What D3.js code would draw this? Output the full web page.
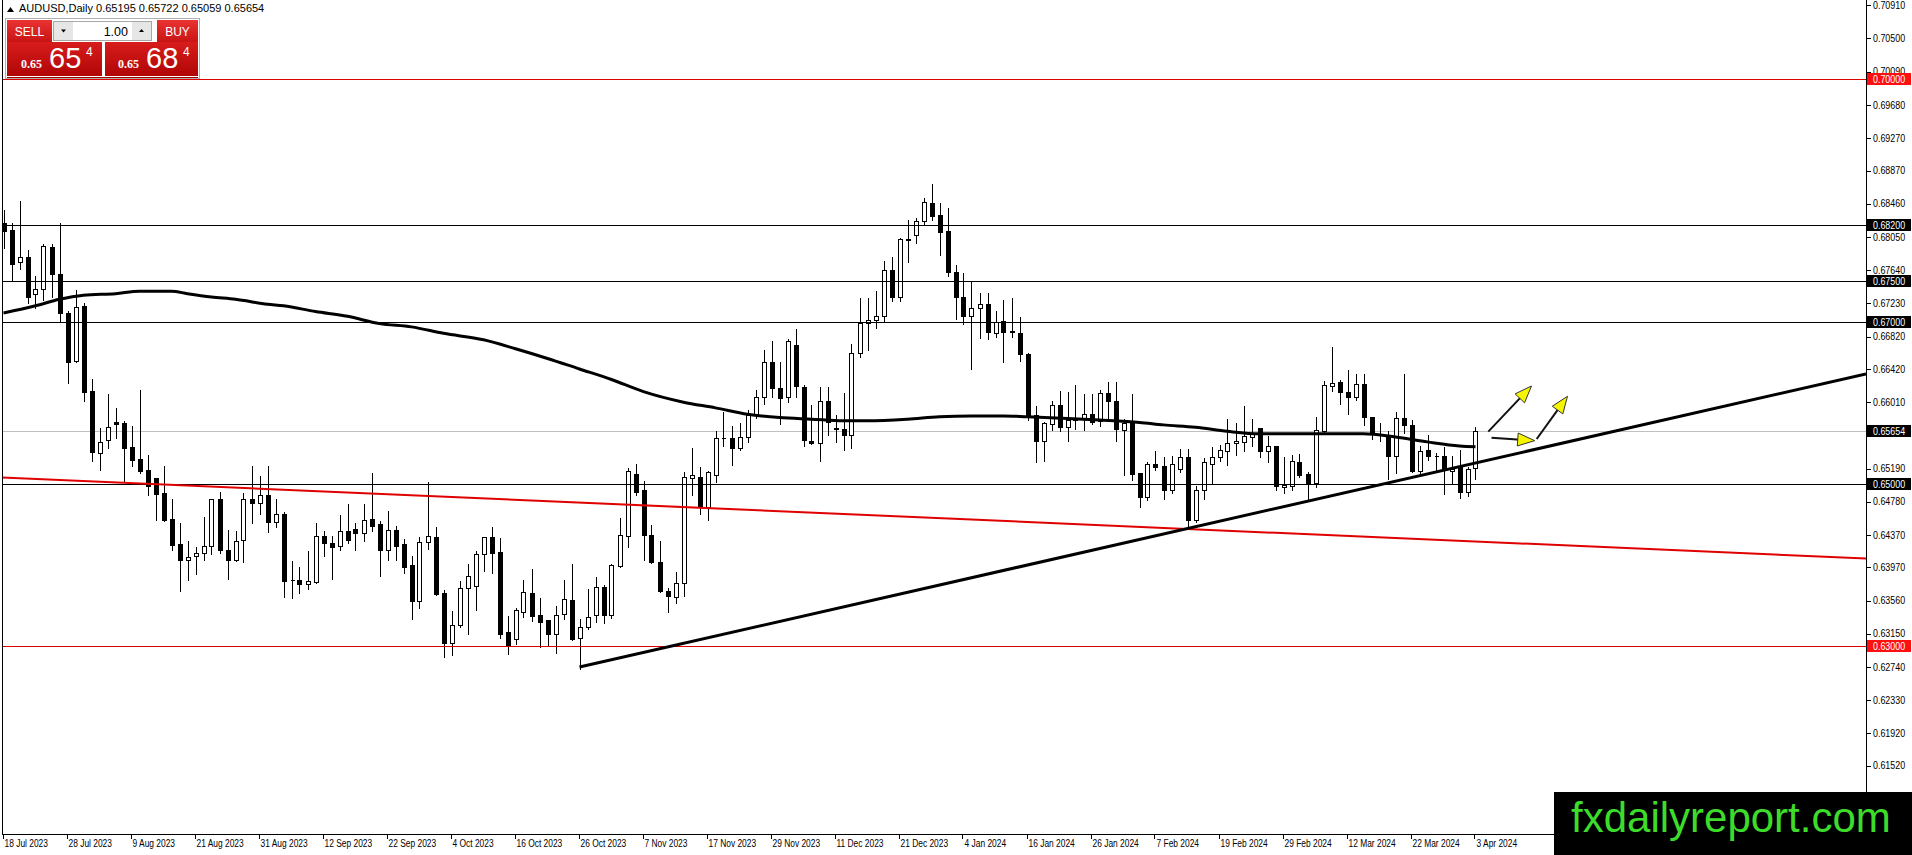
<!DOCTYPE html>
<html><head><meta charset="utf-8">
<script src="https://cdn.jsdelivr.net/npm/d3@7"></script>
<style>
html,body{margin:0;padding:0;background:#fff;overflow:hidden}
svg{display:block}
.ax{font-family:"Liberation Sans",Arial,sans-serif;font-size:10px}
</style></head><body>
<svg id="c" width="1912" height="855"></svg>
<script>
// ---------- DATA ----------
const opens = [0.6822,0.6814,0.6774,0.6780,0.6734,0.6741,0.6793,0.6759,0.6711,0.6652,0.6720,0.6615,0.6538,0.6554,0.6576,0.6575,0.6546,0.6531,0.6517,0.6507,0.6489,0.6457,0.6426,0.6406,0.6411,0.6415,0.6424,0.6481,0.6419,0.6406,0.6431,0.6482,0.6477,0.6486,0.6453,0.6463,0.6382,0.6381,0.6377,0.6379,0.6436,0.6427,0.6424,0.6442,0.6444,0.6439,0.6457,0.6451,0.6418,0.6443,0.6426,0.6400,0.6355,0.6428,0.6434,0.6365,0.6304,0.6326,0.6372,0.6374,0.6413,0.6434,0.6416,0.6317,0.6309,0.6342,0.6366,0.6338,0.6332,0.6315,0.6339,0.6357,0.6310,0.6323,0.6338,0.6373,0.6338,0.6399,0.6436,0.6512,0.6492,0.6437,0.6404,0.6368,0.6361,0.6378,0.6508,0.6509,0.6471,0.6511,0.6557,0.6557,0.6544,0.6558,0.6586,0.6607,0.6650,0.6618,0.6607,0.6672,0.6620,0.6553,0.6550,0.6602,0.6569,0.6568,0.6561,0.6662,0.6699,0.6702,0.6708,0.6764,0.6731,0.6802,0.6807,0.6825,0.6847,0.6832,0.6812,0.6762,0.6731,0.6708,0.6717,0.6722,0.6687,0.6701,0.6689,0.6686,0.6661,0.6585,0.6553,0.6574,0.6597,0.6570,0.6580,0.6580,0.6586,0.6578,0.6612,0.6603,0.6567,0.6577,0.6513,0.6484,0.6525,0.6522,0.6493,0.6519,0.6533,0.6455,0.6492,0.6525,0.6533,0.6541,0.6550,0.6552,0.6558,0.6569,0.6541,0.6547,0.6496,0.6498,0.6527,0.6512,0.6501,0.6565,0.6621,0.6626,0.6613,0.6608,0.6623,0.6583,0.6561,0.6560,0.6534,0.6582,0.6573,0.6516,0.6542,0.6535,0.6534,0.6516,0.6521,0.6490,0.65195];
const highs = [0.6839,0.6823,0.6850,0.6790,0.6758,0.6798,0.6797,0.6824,0.6715,0.6741,0.6725,0.6631,0.6570,0.6612,0.6595,0.6579,0.6573,0.6617,0.6537,0.6507,0.6524,0.6483,0.6453,0.6431,0.6424,0.6460,0.6483,0.6491,0.6444,0.6443,0.6490,0.6524,0.6511,0.6524,0.6483,0.6467,0.6406,0.6399,0.6418,0.6453,0.6443,0.6437,0.6463,0.6477,0.6453,0.6476,0.6515,0.6456,0.6468,0.6449,0.6433,0.6412,0.6436,0.6504,0.6448,0.6370,0.6345,0.6381,0.6403,0.6418,0.6436,0.6448,0.6435,0.6338,0.6348,0.6383,0.6396,0.6361,0.6332,0.6351,0.6383,0.6402,0.6334,0.6371,0.6387,0.6377,0.6402,0.6459,0.6521,0.6526,0.6505,0.6451,0.6431,0.6373,0.6393,0.6516,0.6546,0.6522,0.6517,0.6567,0.6590,0.6573,0.6577,0.6593,0.6617,0.6667,0.6678,0.6652,0.6680,0.6693,0.6624,0.6599,0.6621,0.6621,0.6586,0.6614,0.6674,0.6731,0.6731,0.6739,0.6776,0.6781,0.6805,0.6827,0.6830,0.6854,0.6872,0.6848,0.6842,0.6772,0.6762,0.6751,0.6737,0.6737,0.6715,0.6728,0.6731,0.6707,0.6663,0.6597,0.6578,0.6604,0.6616,0.6615,0.6623,0.6612,0.6612,0.6617,0.6627,0.6627,0.6581,0.6612,0.6515,0.6529,0.6542,0.6534,0.6536,0.6545,0.6544,0.6499,0.6533,0.6547,0.6549,0.6581,0.6577,0.6597,0.6582,0.6570,0.6560,0.6548,0.6534,0.6537,0.6538,0.6516,0.6584,0.6629,0.6670,0.6630,0.6642,0.6637,0.6637,0.6584,0.6576,0.6567,0.6590,0.6637,0.6580,0.6548,0.6562,0.6539,0.6547,0.6536,0.6543,0.6522,0.65722];
const lows = [0.6791,0.6752,0.6766,0.6724,0.6717,0.6727,0.6731,0.6700,0.6625,0.6651,0.6603,0.6528,0.6517,0.6545,0.6557,0.6502,0.6522,0.6514,0.6487,0.6455,0.6454,0.6419,0.6368,0.6382,0.6389,0.6406,0.6414,0.6415,0.6383,0.6405,0.6404,0.6452,0.6463,0.6441,0.6447,0.6360,0.6359,0.6365,0.6370,0.6378,0.6411,0.6383,0.6418,0.6427,0.6418,0.6430,0.6442,0.6387,0.6406,0.6406,0.6390,0.6333,0.6347,0.6420,0.6363,0.6287,0.6289,0.6324,0.6315,0.6345,0.6393,0.6390,0.6310,0.6290,0.6303,0.6336,0.6331,0.6299,0.6301,0.6291,0.6333,0.6307,0.6272,0.6321,0.6330,0.6328,0.6335,0.6397,0.6422,0.6486,0.6406,0.6402,0.6367,0.6342,0.6353,0.6362,0.6486,0.6463,0.6455,0.6502,0.6547,0.6523,0.6542,0.6552,0.6581,0.6599,0.6608,0.6574,0.6601,0.6608,0.6547,0.6549,0.6528,0.6561,0.6552,0.6542,0.6544,0.6657,0.6665,0.6692,0.6701,0.6726,0.6726,0.6774,0.6798,0.6820,0.6826,0.6783,0.6757,0.6704,0.6697,0.6642,0.6680,0.6679,0.6681,0.6650,0.6682,0.6652,0.6579,0.6527,0.6528,0.6567,0.6566,0.6553,0.6568,0.6567,0.6574,0.6571,0.6578,0.6553,0.6511,0.6505,0.6471,0.6480,0.6517,0.6482,0.6489,0.6515,0.6444,0.6453,0.6481,0.6500,0.6529,0.6523,0.6536,0.6541,0.6547,0.6533,0.6527,0.6492,0.6489,0.6492,0.6509,0.6481,0.6496,0.6563,0.6615,0.6599,0.6587,0.6604,0.6573,0.6556,0.6553,0.6506,0.6513,0.6563,0.6515,0.6511,0.6530,0.6516,0.6488,0.6501,0.6483,0.6485,0.65059];
const closes = [0.6812,0.6772,0.6780,0.6731,0.6741,0.6794,0.6759,0.6711,0.6650,0.6718,0.6614,0.6540,0.6552,0.6570,0.6574,0.6545,0.6530,0.6516,0.6497,0.6488,0.6455,0.6425,0.6406,0.6410,0.6415,0.6424,0.6482,0.6419,0.6406,0.6430,0.6482,0.6477,0.6486,0.6453,0.6463,0.6380,0.6381,0.6377,0.6380,0.6436,0.6427,0.6422,0.6442,0.6431,0.6439,0.6455,0.6448,0.6418,0.6443,0.6423,0.6398,0.6355,0.6429,0.6436,0.6364,0.6304,0.6326,0.6372,0.6386,0.6413,0.6434,0.6415,0.6315,0.6300,0.6344,0.6367,0.6337,0.6330,0.6315,0.6338,0.6358,0.6309,0.6324,0.6336,0.6373,0.6338,0.6400,0.6437,0.6516,0.6490,0.6437,0.6404,0.6368,0.6362,0.6378,0.6509,0.6511,0.6471,0.6515,0.6557,0.65568,0.6544,0.6558,0.6585,0.6608,0.6650,0.6618,0.6606,0.6677,0.6621,0.6554,0.6550,0.6603,0.6577,0.6568,0.6561,0.6662,0.6699,0.6703,0.6707,0.6764,0.6731,0.6803,0.6801,0.6825,0.6848,0.6831,0.6811,0.6762,0.6731,0.6708,0.6717,0.6722,0.6688,0.6700,0.6688,0.6688,0.6661,0.6584,0.6553,0.6575,0.6598,0.6570,0.6579,0.6579,0.6586,0.6576,0.6612,0.6603,0.6568,0.6575,0.6512,0.6484,0.6525,0.6521,0.6493,0.6525,0.6533,0.6455,0.6492,0.6527,0.6533,0.6542,0.6550,0.6553,0.6559,0.6562,0.6541,0.6547,0.6497,0.6499,0.6528,0.6511,0.6501,0.6567,0.6622,0.6625,0.6613,0.6608,0.6623,0.6583,0.6562,0.6560,0.6534,0.6582,0.6573,0.6516,0.6541,0.6534,0.6534,0.6517,0.6519,0.6490,0.6519,0.65654];

const maBars   = [0,4,7,10,14,17,21,23,26,29,33,35,39,43,47,51,55,60,64,68,72,76,80,85,89,93,97,101,105,108,113,117,121,125,128,133,137,142,145,149,153,157,161,165,170,174,178,182,184];
const maValues = [0.6711,0.6720,0.6728,0.6733,0.6735,0.6738,0.6738,0.6735,0.6731,0.6728,0.6722,0.6720,0.6713,0.6707,0.6698,0.6694,0.6686,0.6678,0.6667,0.6655,0.6642,0.6629,0.6614,0.6601,0.6594,0.6586,0.6582,0.6580,0.6578,0.6578,0.6580,0.6583,0.6584,0.6584,0.6583,0.6581,0.6579,0.6576,0.6573,0.6570,0.6565,0.6562,0.6562,0.6562,0.6562,0.6558,0.6552,0.6547,0.6546];

const dateBars   = [0,8,16,24,32,40,48,56,64,72,80,88,96,104,112,120,128,136,144,152,160,168,176,184];
const dateLabels = ["18 Jul 2023","28 Jul 2023","9 Aug 2023","21 Aug 2023","31 Aug 2023","12 Sep 2023","22 Sep 2023","4 Oct 2023","16 Oct 2023","26 Oct 2023","7 Nov 2023","17 Nov 2023","29 Nov 2023","11 Dec 2023","21 Dec 2023","4 Jan 2024","16 Jan 2024","26 Jan 2024","7 Feb 2024","19 Feb 2024","29 Feb 2024","12 Mar 2024","22 Mar 2024","3 Apr 2024"];

const priceTicks = [0.70910,0.70500,0.70090,0.69680,0.69270,0.68870,0.68460,0.68050,0.67640,0.67230,0.66820,0.66420,0.66010,0.65600,0.65190,0.64780,0.64370,0.63970,0.63560,0.63150,0.62740,0.62330,0.61920,0.61520];

const redLevels   = [0.70000, 0.63000];
const blackLevels = [0.68200, 0.67500, 0.67000, 0.65000];
const bidPrice    = 0.65654;

const supportBars   = [72, 148];
const supportPrices = [0.6274, 0.6445];
const redTrendBars   = [0, 184];
const redTrendPrices = [0.6508, 0.6429];

const arrowTails = [[185.6,0.65646],[186.0,0.65572],[191.65,0.65556]];
const arrowTips  = [[191.0,0.66210],[191.4,0.65535],[195.5,0.66083]];

const symbolTitle = "AUDUSD,Daily";
const ohlcTitle = [0.65195,0.65722,0.65059,0.65654];

// ---------- LAYOUT ----------
const svg = d3.select("#c");
const L = 2, R = 1866, T = 0, B = 834;
const x = d3.scaleLinear().domain([-0.1875, 232.8125]).range([L, R]);
const y = d3.scaleLinear().domain([0.709753, 0.606790]).range([T, B]);
const px = v => Math.round(x(v)) + 0.5;
const py = v => Math.round(y(v)) + 0.5;
function squeeze(sel, f) {
  sel.each(function(){ const n = this.getComputedTextLength(); d3.select(this).attr("textLength", n*f).attr("lengthAdjust","spacingAndGlyphs"); });
}

svg.append("rect").attr("width",1912).attr("height",855).attr("fill","#fff");

const defs = svg.append("defs");
defs.append("clipPath").attr("id","plot").append("rect").attr("x",L).attr("y",T).attr("width",R-L).attr("height",B-T);
const g1 = defs.append("linearGradient").attr("id","btnG").attr("x1",0).attr("y1",0).attr("x2",0).attr("y2",1);
g1.append("stop").attr("offset","0%").attr("stop-color","#ea3434");
g1.append("stop").attr("offset","100%").attr("stop-color","#c81414");
const g2 = defs.append("linearGradient").attr("id","priceG").attr("x1",0).attr("y1",0).attr("x2",0).attr("y2",1);
g2.append("stop").attr("offset","0%").attr("stop-color","#d81c1c");
g2.append("stop").attr("offset","100%").attr("stop-color","#b00606");

const plot = svg.append("g").attr("clip-path","url(#plot)");

plot.append("line").attr("x1",L).attr("x2",R).attr("y1",py(bidPrice)).attr("y2",py(bidPrice))
  .attr("stroke","#c0c0c0").attr("stroke-width",1).attr("shape-rendering","crispEdges");

const bars = d3.range(opens.length).map(i => ({i, o:opens[i], h:highs[i], l:lows[i], c:closes[i]}));

plot.append("g").selectAll("line").data(bars).join("line")
  .attr("x1", d => px(d.i)).attr("x2", d => px(d.i))
  .attr("y1", d => py(d.h)).attr("y2", d => py(d.l))
  .attr("stroke","#000").attr("stroke-width",1).attr("shape-rendering","crispEdges");
plot.append("g").selectAll("path").data(bars).join("path")
  .attr("d", d => {
    const cx = px(d.i);
    const yt = py(Math.max(d.o,d.c)), yb = py(Math.min(d.o,d.c));
    return `M${cx-2},${yt}H${cx+2}V${yb}H${cx-2}Z`;
  })
  .attr("fill", d => d.c > d.o ? "#fff" : "#000")
  .attr("stroke","#000").attr("stroke-width",1).attr("shape-rendering","crispEdges");

const maLine = d3.line().x(d => x(d[0])).y(d => y(d[1])).curve(d3.curveMonotoneX);
plot.append("path").datum(maBars.map((b,k)=>[b,maValues[k]]))
  .attr("d", maLine).attr("fill","none").attr("stroke","#000").attr("stroke-width",3);

plot.append("g").selectAll("line").data(blackLevels).join("line")
  .attr("x1",L).attr("x2",R).attr("y1",d=>py(d)).attr("y2",d=>py(d))
  .attr("stroke","#000").attr("stroke-width",1).attr("shape-rendering","crispEdges");
plot.append("g").selectAll("line").data(redLevels).join("line")
  .attr("x1",L).attr("x2",R).attr("y1",d=>py(d)).attr("y2",d=>py(d))
  .attr("stroke","#e00000").attr("stroke-width",1).attr("shape-rendering","crispEdges");

function extLine(bs, ps) {
  const slope = (ps[1]-ps[0])/(bs[1]-bs[0]);
  return b => ps[0] + slope*(b-bs[0]);
}
const redF = extLine(redTrendBars, redTrendPrices);
const d0 = x.domain()[0], d1 = x.domain()[1];
plot.append("line").attr("x1",x(d0)).attr("y1",y(redF(d0))).attr("x2",x(d1)).attr("y2",y(redF(d1)))
  .attr("stroke","#e00000").attr("stroke-width",2);
const supF = extLine(supportBars, supportPrices);
plot.append("line").attr("x1",x(supportBars[0])).attr("y1",y(supportPrices[0])).attr("x2",x(d1)).attr("y2",y(supF(d1)))
  .attr("stroke","#000").attr("stroke-width",3);

arrowTails.forEach((t,k) => {
  const tip = arrowTips[k];
  const x1 = x(t[0]), y1 = y(t[1]), x2 = x(tip[0]), y2 = y(tip[1]);
  const ang = Math.atan2(y2-y1, x2-x1);
  const hl = 17, hw = 6.5;
  const bx = x2 - hl*Math.cos(ang), by = y2 - hl*Math.sin(ang);
  plot.append("line").attr("x1",x1).attr("y1",y1).attr("x2",bx+3*Math.cos(ang)).attr("y2",by+3*Math.sin(ang))
    .attr("stroke","#111").attr("stroke-width",2);
  const nx = -Math.sin(ang), ny = Math.cos(ang);
  plot.append("path")
    .attr("d",`M${x2},${y2}L${bx+nx*hw},${by+ny*hw}L${bx-nx*hw},${by-ny*hw}Z`)
    .attr("fill","#f5f500").attr("stroke","#333").attr("stroke-width",1);
});

// frame
svg.append("g").attr("shape-rendering","crispEdges").call(g => {
  g.append("line").attr("x1",L+0.5).attr("x2",L+0.5).attr("y1",T).attr("y2",B+0.5).attr("stroke","#000");
  g.append("line").attr("x1",L).attr("x2",R+0.5).attr("y1",B+0.5).attr("y2",B+0.5).attr("stroke","#000");
  g.append("line").attr("x1",R+0.5).attr("x2",R+0.5).attr("y1",T).attr("y2",B+0.5).attr("stroke","#000");
});

// right price axis
const tagPrices = redLevels.concat(blackLevels, [bidPrice]);
const ya = svg.append("g").attr("class","ax");
ya.selectAll("line").data(priceTicks).join("line")
  .attr("x1",R+1).attr("x2",R+5).attr("y1",d=>py(d)).attr("y2",d=>py(d))
  .attr("stroke","#000").attr("shape-rendering","crispEdges");
// tick labels hidden under a price tag are not drawn; a partly covered one is clipped as in the terminal
const gap = d => d3.min(tagPrices, p => Math.abs(y(p) - y(d)));
const visTicks = priceTicks.filter(d => gap(d) >= 6);
const yt = ya.selectAll("text").data(visTicks).join("text")
  .attr("x",R+7).attr("y",d=>y(d)+3.6).attr("fill","#000").text(d=>d.toFixed(5))
  .attr("clip-path", (d,k) => {
    if (gap(d) >= 11) return null;
    const p = tagPrices.find(q => Math.abs(y(q)-y(d)) < 11);
    const id = "tc"+k;
    const top = y(p) < y(d);
    defs.append("clipPath").attr("id",id).append("rect")
      .attr("x",R).attr("width",50)
      .attr("y", top ? Math.round(y(p))+6 : 0)
      .attr("height", top ? 900 : Math.round(y(p))-6);
    return `url(#${id})`;
  });
squeeze(yt, 0.89);

function tag(price, bg) {
  const yy = Math.round(y(price));
  svg.append("rect").attr("x",R+1).attr("y",yy-6).attr("width",44).attr("height",12).attr("fill",bg);
  const t = svg.append("text").attr("class","ax").attr("x",R+7).attr("y",yy+4).attr("fill","#fff").text(price.toFixed(5));
  squeeze(t, 0.89);
}
redLevels.forEach(p => tag(p, "#ff1010"));
blackLevels.forEach(p => tag(p, "#000"));
tag(bidPrice, "#000");

// date axis
const xa = svg.append("g").attr("class","ax");
xa.selectAll("line").data(dateBars).join("line")
  .attr("x1",d=>px(d)-1).attr("x2",d=>px(d)-1).attr("y1",B+1).attr("y2",B+5)
  .attr("stroke","#000").attr("shape-rendering","crispEdges");
const xt = xa.selectAll("text").data(dateBars).join("text")
  .attr("x",d=>x(d)+1).attr("y",B+13).attr("fill","#000").text((d,k)=>dateLabels[k]);
squeeze(xt, 0.84);

// header
const hd = svg.append("g").attr("font-family","Liberation Sans, Arial, sans-serif").attr("font-size","11px");
hd.append("path").attr("d","M7,12L10.5,7L14,12Z").attr("fill","#000");
hd.append("text").attr("x",19).attr("y",12).text(symbolTitle + "  " + ohlcTitle.map(v=>v.toFixed(5)).join(" "));

// one-click trading panel
const pn = svg.append("g").attr("font-family","Liberation Sans, Arial, sans-serif");
pn.append("rect").attr("x",5.5).attr("y",18.5).attr("width",194).attr("height",60).attr("fill","none").attr("stroke","#b0b0b0");
pn.append("rect").attr("x",7).attr("y",20).attr("width",45).attr("height",22).attr("fill","url(#btnG)");
pn.append("text").attr("x",29.5).attr("y",36).attr("text-anchor","middle").attr("fill","#fff").attr("font-size","12px").text("SELL");
pn.append("rect").attr("x",157).attr("y",20).attr("width",41).attr("height",22).attr("fill","url(#btnG)");
pn.append("text").attr("x",177.5).attr("y",36).attr("text-anchor","middle").attr("fill","#fff").attr("font-size","12px").text("BUY");
pn.append("rect").attr("x",53.5).attr("y",21.5).attr("width",98).attr("height",19).attr("fill","#fff").attr("stroke","#a8a8a8");
pn.append("rect").attr("x",54).attr("y",22).attr("width",19).attr("height",18).attr("fill","#e6e6e6");
pn.append("rect").attr("x",132).attr("y",22).attr("width",19).attr("height",18).attr("fill","#e6e6e6");
pn.append("path").attr("d","M61,29.5L66,29.5L63.5,32.5Z").attr("fill","#000");
pn.append("path").attr("d","M139,32L144,32L141.5,29Z").attr("fill","#000");
pn.append("text").attr("x",128).attr("y",36).attr("text-anchor","end").attr("font-size","12.5px").attr("fill","#000").text("1.00");
pn.append("rect").attr("x",7).attr("y",42).attr("width",95).attr("height",34).attr("fill","url(#priceG)");
pn.append("rect").attr("x",105).attr("y",42).attr("width",93).attr("height",34).attr("fill","url(#priceG)");
pn.append("line").attr("x1",7).attr("x2",198).attr("y1",77.5).attr("y2",77.5).attr("stroke","#9a0000");
function priceBox(x0, big, sup) {
  pn.append("text").attr("x",x0).attr("y",68).attr("fill","#fff").attr("font-size","12px").attr("font-weight","bold").attr("font-family","Liberation Serif, serif").text("0.65");
  pn.append("text").attr("x",x0+28).attr("y",68).attr("fill","#fff").attr("font-size","29px").text(big);
  pn.append("text").attr("x",x0+65).attr("y",56).attr("fill","#fff").attr("font-size","12px").text(sup);
}
priceBox(21, "65", "4");
priceBox(118, "68", "4");

// logo
svg.append("rect").attr("x",1554).attr("y",792).attr("width",358).attr("height",63).attr("fill","#000");
svg.append("text").attr("x",1571).attr("y",832).attr("fill","#3ddc2b")
  .attr("font-family","Liberation Sans, Arial, sans-serif").attr("font-size","42px").text("fxdailyreport.com");
</script>
</body></html>
